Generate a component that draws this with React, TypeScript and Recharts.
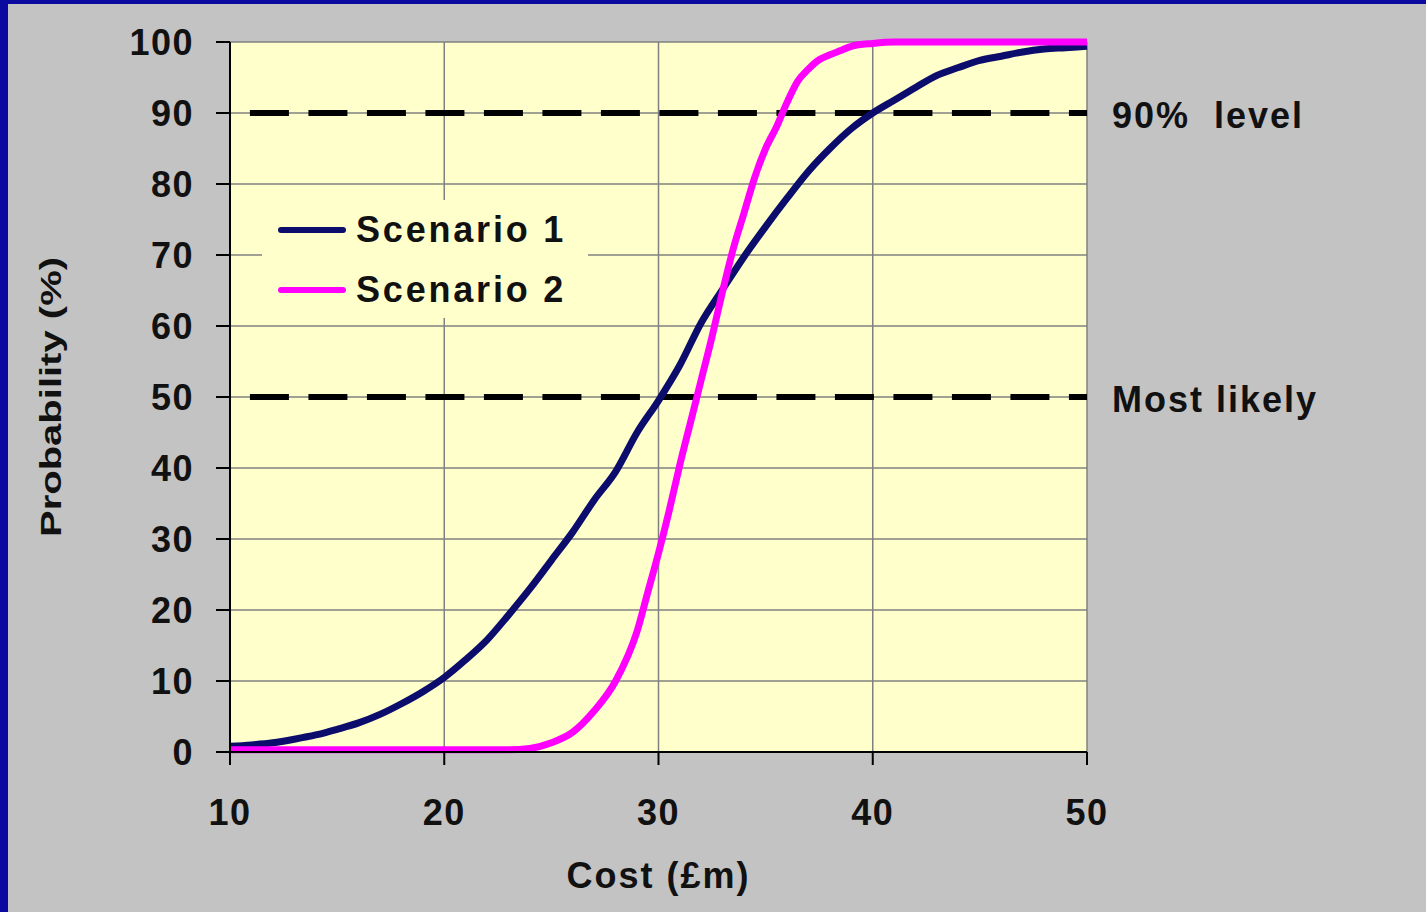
import React from "react";
import {
  LineChart,
  Line,
  XAxis,
  YAxis,
  CartesianGrid,
  ReferenceLine,
  Legend,
} from "recharts";

// ---- Data ----
const S1_COST = [10, 11, 12, 13, 14, 15, 16, 17, 18, 19, 20, 21, 22, 23, 24, 25, 26, 27, 28, 29, 30, 31, 32, 33, 34, 35, 36, 37, 38, 39, 40, 41, 42, 43, 44, 45, 46, 47, 48, 49, 50];
const S1_PROB = [0.8, 1.0, 1.3, 1.8, 2.4, 3.2, 4.1, 5.3, 6.8, 8.5, 10.5, 13.0, 15.8, 19.3, 23.0, 27.0, 31.0, 35.5, 39.5, 45.0, 49.5, 54.5, 60.5, 65.2, 69.8, 74.0, 78.0, 81.8, 85.0, 87.8, 90.0, 91.8, 93.6, 95.3, 96.4, 97.4, 98.0, 98.6, 99.0, 99.2, 99.4];

const S2_COST = [10, 15, 20, 23, 24, 25, 26, 27, 28, 29, 29.5, 30, 30.5, 31, 31.5, 32, 32.5, 33, 33.5, 34, 34.5, 35, 35.5, 36, 36.5, 37, 37.5, 38, 38.5, 39, 40, 41, 45, 50];
const S2_PROB = [0.3, 0.3, 0.3, 0.3, 0.5, 1.3, 2.8, 5.8, 10.0, 17.0, 22.5, 28.0, 34.0, 40.5, 46.5, 52.5, 58.5, 65.0, 71.0, 76.0, 81.0, 85.0, 88.0, 91.5, 94.5, 96.2, 97.5, 98.2, 98.8, 99.4, 99.8, 100, 100, 100];

const SERIES_NAMES = ["Scenario 1", "Scenario 2"];
const X_TICKS = [10, 20, 30, 40, 50];
const Y_TICKS = [0, 10, 20, 30, 40, 50, 60, 70, 80, 90, 100];

const LEVEL_START = 10.93;
const LEVEL_END = 50;
const LEVEL_90 = 90;
const LEVEL_50 = 50;
const LEVEL_LABELS = ["90%\u00A0 level", "Most likely"];

const X_TITLE = "Cost (£m)";
const Y_TITLE = "Probability (%)";

const s1Data = S1_COST.map((c, i) => ({ cost: c, p: S1_PROB[i] }));
const s2Data = S2_COST.map((c, i) => ({ cost: c, p: S2_PROB[i] }));

// ---- Styles ----
const FONT = "'Liberation Sans', Arial, Helvetica, sans-serif";
const NAVY = "#0c0c6c";
const MAGENTA = "#ff00ff";
const PLOT_BG = "#ffffcc";
const PAGE_BG = "#c3c3c3";
const BORDER_BLUE = "#0a0aa0";

const textStyle = {
  fontFamily: FONT,
  fontWeight: 700,
  fontSize: 36,
  fill: "#111",
  letterSpacing: 1.5,
};

const YTitle = (props: any) => {
  const vb = props.viewBox || { x: 0, y: 42, height: 710 };
  const cx = vb.x + 61;
  const cy = vb.y + vb.height / 2;
  return (
    <text
      transform={`translate(${cx},${cy}) rotate(-90) scale(1.38,1)`}
      textAnchor="middle"
      style={{ fontFamily: FONT, fontWeight: 700, fontSize: 29, fill: "#111" }}
    >
      {Y_TITLE}
    </text>
  );
};

const XTitle = (props: any) => {
  const vb = props.viewBox || { x: 230, y: 752, width: 857 };
  return (
    <text
      x={vb.x + vb.width / 2}
      y={vb.y + 136}
      textAnchor="middle"
      style={{ ...textStyle, letterSpacing: 2 }}
    >
      {X_TITLE}
    </text>
  );
};

const LegendContent = (props: any) => {
  const payload = props.payload || [];
  return (
    <div style={{ position: "relative", width: "100%", height: "100%", background: PLOT_BG }}>
      {payload.map((entry: any, i: number) => (
        <div
          key={i}
          style={{
            position: "absolute",
            left: 16,
            top: 30 + i * 60 - 22,
            height: 44,
            display: "flex",
            alignItems: "center",
          }}
        >
          <div
            style={{
              width: 68,
              height: 6,
              borderRadius: 3,
              background: entry.color,
              marginRight: 10,
            }}
          />
          <span
            style={{
              fontFamily: FONT,
              fontWeight: 700,
              fontSize: 36,
              letterSpacing: 2.8,
              color: "#111",
              lineHeight: "44px",
            }}
          >
            {entry.value}
          </span>
        </div>
      ))}
    </div>
  );
};

export default function App() {
  return (
    <div
      style={{
        position: "absolute",
        left: 0,
        top: 0,
        width: 1426,
        height: 912,
        background: PAGE_BG,
        overflow: "hidden",
      }}
    >
      <LineChart
        width={1426}
        height={912}
        margin={{ top: 42, right: 339, bottom: 0, left: 0 }}
      >
        <CartesianGrid
          fill={PLOT_BG}
          stroke="#808080"
          strokeWidth={1.5}
          horizontalValues={Y_TICKS}
          verticalValues={X_TICKS}
        />
        <XAxis
          type="number"
          dataKey="cost"
          domain={[10, 50]}
          ticks={X_TICKS}
          allowDuplicatedCategory={false}
          height={160}
          tickSize={13}
          tickMargin={34}
          axisLine={{ stroke: "#000", strokeWidth: 2 }}
          tickLine={{ stroke: "#000", strokeWidth: 2 }}
          tick={textStyle}
          label={<XTitle />}
        />
        <YAxis
          type="number"
          domain={[0, 100]}
          ticks={Y_TICKS}
          width={230}
          tickSize={14}
          tickMargin={22}
          axisLine={{ stroke: "#000", strokeWidth: 2 }}
          tickLine={{ stroke: "#000", strokeWidth: 2 }}
          tick={textStyle}
          label={<YTitle />}
        />
        <ReferenceLine
          segment={[
            { x: LEVEL_START, y: LEVEL_90 },
            { x: LEVEL_END, y: LEVEL_90 },
          ]}
          stroke="#000"
          strokeWidth={6}
          strokeDasharray="39 19.5"
          label={{
            value: LEVEL_LABELS[0],
            position: "right",
            offset: 25,
            dy: 2,
            style: { ...textStyle, letterSpacing: 2 },
          }}
        />
        <ReferenceLine
          segment={[
            { x: LEVEL_START, y: LEVEL_50 },
            { x: LEVEL_END, y: LEVEL_50 },
          ]}
          stroke="#000"
          strokeWidth={6}
          strokeDasharray="39 19.5"
          label={{
            value: LEVEL_LABELS[1],
            position: "right",
            offset: 25,
            dy: 2,
            style: { ...textStyle, letterSpacing: 2 },
          }}
        />
        <Line
          data={s1Data}
          dataKey="p"
          name={SERIES_NAMES[0]}
          type="monotone"
          stroke={NAVY}
          strokeWidth={7}
          dot={false}
          activeDot={false}
          isAnimationActive={false}
        />
        <Line
          data={s2Data}
          dataKey="p"
          name={SERIES_NAMES[1]}
          type="monotone"
          stroke={MAGENTA}
          strokeWidth={7}
          dot={false}
          activeDot={false}
          isAnimationActive={false}
        />
        <Legend
          layout="vertical"
          align="center"
          verticalAlign="middle"
          content={<LegendContent />}
          wrapperStyle={{ left: 262, top: 200, width: 326, height: 118 }}
        />
      </LineChart>
      <div style={{ position: "absolute", left: 0, top: 0, width: 1426, height: 4, background: BORDER_BLUE }} />
      <div style={{ position: "absolute", left: 0, top: 0, width: 8, height: 912, background: BORDER_BLUE }} />
    </div>
  );
}
